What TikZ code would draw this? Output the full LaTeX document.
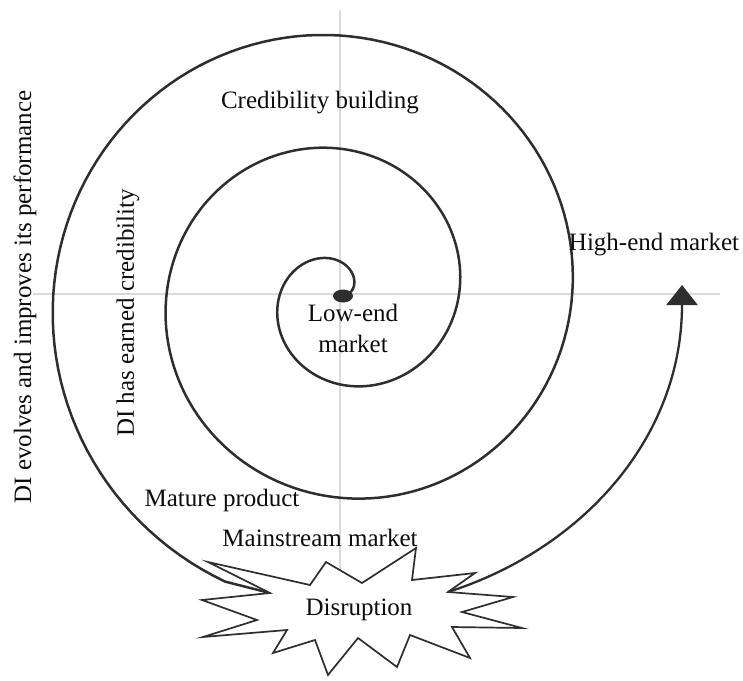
\documentclass[tikz,border=0pt]{standalone}
\usepackage{fontspec}
\setmainfont{Liberation Serif}
\usetikzlibrary{arrows.meta,shapes.geometric}
\definecolor{ink}{HTML}{2E2E2E}
\definecolor{axisgray}{HTML}{DADADA}
\begin{document}
\begin{tikzpicture}[x=1pt,y=-1pt,
  axis/.style={axisgray,line width=1.4pt},
  spiralline/.style={ink,line width=2.5pt,line cap=round},
  burst/.style={ink,line width=1.7pt,fill=white,line join=miter},
  growth/.style={ink,line width=2.3pt,-{Triangle[width=31pt,length=20pt]}},
  lbl/.style={inner sep=0pt,text=black!95,font=\fontsize{25}{31}\selectfont,align=center}]
\useasboundingbox (0,0) rectangle (743,680);

% faint quadrant axes
\draw[axis] (340,10) -- (340,590);
\draw[axis] (33,294) -- (720,294);

% key points
\coordinate (core) at (341,295);
\coordinate (spiralend) at (270,593);
\coordinate (burstR) at (448,592);
\coordinate (hightip) at (682,285);

% growth spiral from the low-end market outwards
\draw[spiralline] plot[domain=0:968,samples=400]
  ({341+(4.7+0.3145*\x)*cos(\x)},{295-(4.7+0.3145*\x)*sin(\x)}) -- (spiralend);

% disruption burst
\draw[burst] (208,562) -- (310,585) -- (326,562) -- (362,583) -- (416,548)
  -- (412,580) -- (475,573) -- (448,592) -- (513,597) -- (462,612)
  -- (522,628) -- (452,627) -- (470,658) -- (410,635) -- (397,667)
  -- (358,638) -- (328,675) -- (315,640) -- (273,653) -- (287,630)
  -- (203,637) -- (257,620) -- (202,600) -- (270,593) -- cycle;
\node[lbl] (disruption) at (359,610) {Disruption};

% jump to the high-end market
\draw[growth] (burstR) .. controls (580,550) and (682,440) .. (hightip);

% starting point of the spiral
\node[ellipse,fill=ink,minimum width=20pt,minimum height=13pt,inner sep=0pt] (lowdot) at (343,296) {};

% labels
\node[lbl] (lowend) at (353,328) {Low-end\\market};
\node[lbl] (credbuild) at (320,103) {Credibility building};
\node[lbl] (highend) at (654,245) {High-end market};
\node[lbl] (mature) at (222,500) {Mature product};
\node[lbl] (mainstream) at (320,538) {Mainstream market};
\node[lbl,rotate=90] (evolves) at (25,297) {DI evolves and improves its performance};
\node[lbl,rotate=90] (earned) at (128,313) {DI has earned credibility};
\end{tikzpicture}
\end{document}
